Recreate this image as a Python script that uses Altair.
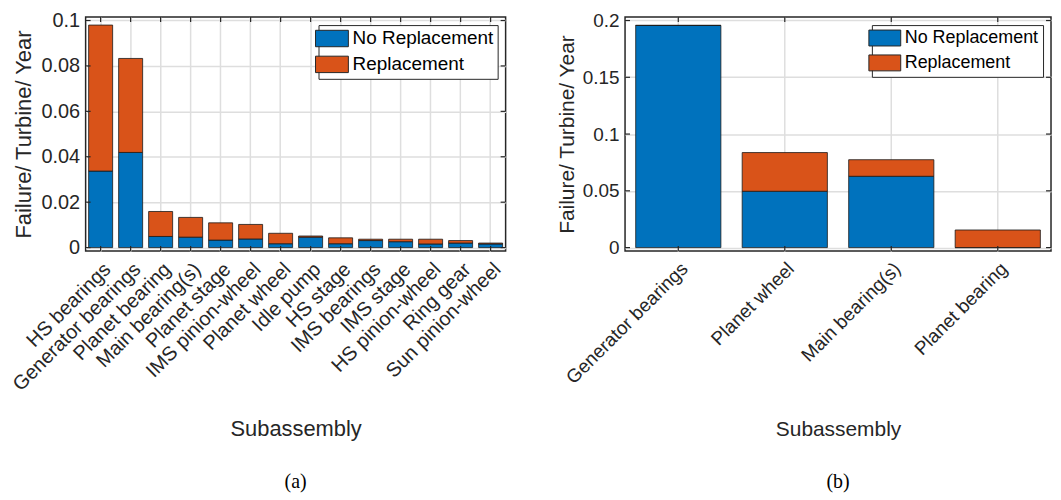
import altair as alt
import pandas as pd

# ---------------- data ----------------
cats_a = ["HS bearings", "Generator bearings", "Planet bearing", "Main bearing(s)",
          "Planet stage", "IMS pinion-wheel", "Planet wheel", "Idle pump", "HS stage",
          "IMS bearings", "IMS stage", "HS pinion-wheel", "Ring gear", "Sun pinion-wheel"]
no_rep_a = [0.0337, 0.0419, 0.0049, 0.0046, 0.0033, 0.0038, 0.0017, 0.0046, 0.0017,
            0.0031, 0.0026, 0.0016, 0.0020, 0.0016]
rep_a = [0.0643, 0.0414, 0.0110, 0.0087, 0.0076, 0.0064, 0.0046, 0.0005, 0.0026,
         0.0006, 0.0011, 0.0021, 0.0011, 0.0004]

cats_b = ["Generator bearings", "Planet wheel", "Main bearing(s)", "Planet bearing"]
no_rep_b = [0.1957, 0.0496, 0.0628, 0.0]
rep_b = [0.0, 0.0341, 0.0146, 0.0155]

series = ["No Replacement", "Replacement"]
colors = ["#0072BD", "#D95319"]
yticks_a = [0, 0.02, 0.04, 0.06, 0.08, 0.1]
yticks_b = [0, 0.05, 0.1, 0.15, 0.2]

FONT = "Liberation Sans"
TXT = "#262626"
GRID = "#dedede"


def long_df(cats, nr, r):
    rows = []
    for i, c in enumerate(cats):
        rows.append({"cat": c, "series": series[0], "value": nr[i], "k": 0})
        rows.append({"cat": c, "series": series[1], "value": r[i], "k": 1})
    return pd.DataFrame(rows)


def panel(cats, nr, r, yticks, ydom, W, H, fs_tick, fs_title, fs_leg, sym_h,
          xtitle_pad, caption):
    df = long_df(cats, nr, r)
    xscale = alt.Scale(domain=cats, paddingInner=0.2, paddingOuter=0.1)
    yscale = alt.Scale(domain=ydom, nice=False, zero=False)
    ax_x = alt.Axis(title="Subassembly", labelAngle=-45, labelAlign="right",
                    labelBaseline="top", labelPadding=8, ticks=False,
                    domain=False, grid=True, gridColor=GRID, gridWidth=1.5,
                    labelFont=FONT, labelFontSize=fs_tick, labelColor=TXT,
                    titleFont=FONT, titleFontSize=fs_title, titleColor=TXT,
                    titleFontWeight="normal", titlePadding=xtitle_pad, labelLimit=0)
    ax_y = alt.Axis(values=yticks, format="~g", title="Failure/ Turbine/ Year",
                    ticks=False, domain=False, grid=True, gridColor=GRID,
                    gridWidth=1.5, labelPadding=6,
                    labelFont=FONT, labelFontSize=fs_tick, labelColor=TXT,
                    titleFont=FONT, titleFontSize=fs_title, titleColor=TXT,
                    titleFontWeight="normal", titlePadding=5)
    bars = alt.Chart(df).mark_bar(stroke="#1a1a1a", strokeWidth=0.8).encode(
        x=alt.X("cat:N", scale=xscale, sort=cats, axis=ax_x),
        y=alt.Y("value:Q", stack="zero", scale=yscale, axis=ax_y),
        color=alt.Color("series:N", scale=alt.Scale(domain=series, range=colors),
                        legend=alt.Legend(title=None, orient="top-right", offset=8,
                                          strokeColor=TXT, fillColor="white", padding=4,
                                          symbolType="M-2,-1L2,-1L2,1L-2,1Z",
                                          symbolSize=sym_h * sym_h,
                                          symbolStrokeColor=TXT, symbolStrokeWidth=1,
                                          symbolOpacity=1, labelFont=FONT,
                                          labelFontSize=fs_leg, labelColor="black",
                                          labelOffset=sym_h / 2 + 3, labelLimit=0,
                                          rowPadding=5)),
        order=alt.Order("k:Q"),
    )
    ydf = pd.DataFrame({"value": yticks})
    xdf = pd.DataFrame({"cat": cats})
    tick_l = alt.Chart(ydf).mark_rule(color=TXT, strokeWidth=1.2).encode(
        y=alt.Y("value:Q", scale=yscale, axis=ax_y), x=alt.value(0), x2=alt.value(5))
    tick_r = alt.Chart(ydf).mark_rule(color=TXT, strokeWidth=1.2).encode(
        y=alt.Y("value:Q", scale=yscale, axis=ax_y), x=alt.value(W - 5), x2=alt.value(W))
    tick_b = alt.Chart(xdf).mark_rule(color=TXT, strokeWidth=1.2).encode(
        x=alt.X("cat:N", scale=xscale, sort=cats, axis=ax_x), y=alt.value(H), y2=alt.value(H - 5))
    tick_t = alt.Chart(xdf).mark_rule(color=TXT, strokeWidth=1.2).encode(
        x=alt.X("cat:N", scale=xscale, sort=cats, axis=ax_x), y=alt.value(0), y2=alt.value(5))
    return alt.layer(bars, tick_l, tick_r, tick_b, tick_t).properties(
        width=W, height=H,
        title=alt.TitleParams(caption, orient="bottom", font="Liberation Serif",
                              fontSize=20, fontWeight="normal", color="black", offset=33),
    )


left = panel(cats_a, no_rep_a, rep_a, yticks_a, [-0.0015, 0.1015], 422, 235,
             20, 22, 19, 16.5, 24, "(a)")
right = panel(cats_b, no_rep_b, rep_b, yticks_b, [-0.003, 0.203], 428, 235,
              19, 21, 18, 16, 31, "(b)")

chart = alt.hconcat(left, right, spacing=48).resolve_scale(
    color="independent").resolve_legend(color="independent").properties(
    padding={"left": 0, "top": 0, "right": 0, "bottom": 0}
).configure_view(stroke=TXT, strokeWidth=1.5)

chart.save("out.html", embed_options={"renderer": "svg", "actions": False})
